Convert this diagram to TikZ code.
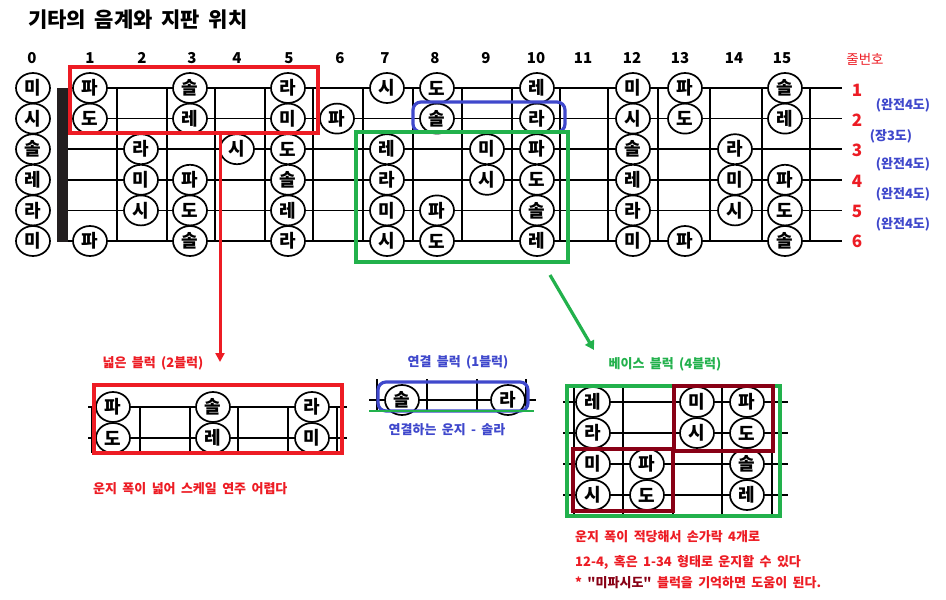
\documentclass[tikz,border=0pt]{standalone}
\usepackage{fontspec}
\setmainfont[WordSpace=1.8, Ligatures=TeXOff]{Noto Sans CJK KR}
\usetikzlibrary{shapes.geometric,arrows.meta}
\definecolor{myred}{HTML}{ED1C24}
\definecolor{myblue}{HTML}{3F48CC}
\definecolor{mygreen}{HTML}{22B14C}
\definecolor{mydark}{HTML}{880015}
\definecolor{nutc}{HTML}{231F20}
\begin{document}
\begin{tikzpicture}[x=1pt,y=-1pt,
  note/.style={ellipse, draw, line width=1.7pt, fill=white, minimum width=34pt, minimum height=30pt, inner sep=0pt, font=\fontsize{18}{18}\selectfont\bfseries},
  strg/.style={line width=1.6pt},
  fretl/.style={line width=1.7pt},
  fnum/.style={font=\fontsize{15}{15}\selectfont\bfseries},
  snum/.style={font=\fontsize{17}{17}\selectfont\bfseries, text=myred},
  intv/.style={font=\fontsize{13}{13}\selectfont\bfseries, text=myblue},
  lbl/.style={font=\fontsize{13}{13}\selectfont\bfseries, inner sep=0pt},
  box/.style={draw, line width=3.2pt, inner sep=0pt, outer sep=0pt}
]
\useasboundingbox (0,0) rectangle (946,600);
\fill[white] (0,0) rectangle (946,600);
% title
\node[anchor=west, font=\fontsize{21}{21}\selectfont\bfseries, inner sep=0pt] (title) at (28,20) {기타의 음계와 지판 위치};
% fret numbers
\foreach \n/\x in {0/32,1/90,2/142,3/192,4/237,5/289,6/340,7/385,8/435,9/486,10/536,11/583,12/632,13/680,14/734,15/782}
  \node[fnum] (fn\n) at (\x,58) {\n};
% strings
\foreach \s in {1,...,6} {
  \pgfmathsetmacro\yy{88+30.6*(\s-1)}
  \coordinate (sl\s) at (68,\yy);
  \coordinate (sr\s) at (842,\yy);
  \draw[strg, line width={\s==6 ? 2.3pt : 1.6pt}] (sl\s) -- (sr\s);
}
% frets
\foreach \x [count=\i] in {117,167,215,265,313,363,413,462,512,560,608,658,710,762,810} {
  \coordinate (ft\i) at (\x,88);
  \coordinate (fb\i) at (\x,241);
  \draw[fretl] (ft\i) -- (fb\i);
}
% nut
\fill[nutc] (57,88) rectangle (68,242);
% notes
\foreach \s/\f/\t in {1/0/미,2/0/시,3/0/솔,4/0/레,5/0/라,6/0/미,
  1/1/파,2/1/도,6/1/파,
  3/2/라,4/2/미,5/2/시,
  1/3/솔,2/3/레,4/3/파,5/3/도,6/3/솔,
  3/4/시,
  1/5/라,2/5/미,3/5/도,4/5/솔,5/5/레,6/5/라,
  2/6/파,
  1/7/시,3/7/레,4/7/라,5/7/미,6/7/시,
  1/8/도,2/8/솔,5/8/파,6/8/도,
  3/9/미,4/9/시,
  1/10/레,2/10/라,3/10/파,4/10/도,5/10/솔,6/10/레,
  1/12/미,2/12/시,3/12/솔,4/12/레,5/12/라,6/12/미,
  1/13/파,2/13/도,6/13/파,
  3/14/라,4/14/미,5/14/시,
  1/15/솔,2/15/레,4/15/파,5/15/도,6/15/솔} {
  \pgfmathsetmacro\xx{{33,90,141,190,237,288,337,387,437,487,537,585,633,685,735,785}[\f]}
  \pgfmathsetmacro\yy{88+30.6*(\s-1)}
  \node[note] (n\s-\f) at (\xx,\yy) {\t};
}
% string labels
\node[font=\fontsize{13.5}{13.5}\selectfont, text=myred] (jul) at (865,59) {줄번호};
\foreach \s in {1,...,6} {
  \pgfmathsetmacro\yy{90+30.3*(\s-1)}
  \node[snum] (sn\s) at (857,\yy) {\s};
}
\node[intv] (iv1) at (903,105) {(완전4도)};
\node[intv] (iv2) at (891,136) {(장3도)};
\node[intv] (iv3) at (903,164) {(완전4도)};
\node[intv] (iv4) at (903,194) {(완전4도)};
\node[intv] (iv5) at (903,224) {(완전4도)};
% highlight boxes on fretboard
\node[box, draw=myred, minimum width=248pt, minimum height=66pt] (redbox) at (194,100) {};
\node[box, draw=myblue, rounded corners=8pt, minimum width=152pt, minimum height=30pt] (bluebox) at (489,117) {};
\node[box, draw=mygreen, minimum width=212pt, minimum height=130pt] (greenbox) at (462,197) {};
% arrows
\coordinate (redend) at (220,362);
\draw[myred, line width=3pt, -{Triangle[length=9pt,width=9pt]}] (redbox.south -| redend) -- (redend);
\coordinate (gstart) at (550,275);
\coordinate (gend) at (594,350);
\draw[mygreen, line width=3.2pt, -{Triangle[length=9pt,width=10pt]}] (gstart) -- (gend);

% ===== left block
\node[lbl, text=myred] (lt1) at (153,363) {넓은 블럭 (2블럭)};
\foreach \y [count=\i] in {407,438} {
  \coordinate (ls\i a) at (88,\y); \coordinate (ls\i b) at (347,\y);
  \draw[strg] (ls\i a) -- (ls\i b);
}
\foreach \x [count=\i] in {92,140,190,238,288,337} {
  \coordinate (lf\i a) at (\x,407); \coordinate (lf\i b) at (\x,453);
  \draw[fretl] (lf\i a) -- (lf\i b);
}
\foreach \x/\y/\t [count=\i] in {113/407/파,213/407/솔,312/407/라,113/438/도,213/438/레,312/438/미}
  \node[note] (ln\i) at (\x,\y) {\t};
\node[box, draw=myred, minimum width=248pt, minimum height=68pt] (lbox) at (218,419) {};
\node[lbl, text=myred, anchor=west] (lt2) at (93,489) {운지 폭이 넓어 스케일 연주 어렵다};

% ===== middle block
\node[lbl, text=myblue] (mt1) at (458,362) {연결 블럭 (1블럭)};
\coordinate (msa) at (369,400); \coordinate (msb) at (536,400);
\draw[strg] (msa) -- (msb);
\foreach \x [count=\i] in {377,427,477,526} {
  \coordinate (mf\i a) at (\x,379); \coordinate (mf\i b) at (\x,411);
  \draw[fretl] (mf\i a) -- (mf\i b);
}
\node[note] (mn1) at (402,400) {솔};
\node[note] (mn2) at (508,400) {라};
\node[box, draw=myblue, rounded corners=8pt, minimum width=150pt, minimum height=29pt] (mbox) at (453,396.5) {};
\coordinate (mga) at (369,411); \coordinate (mgb) at (534,411);
\draw[mygreen, line width=2.6pt] (mga) -- (mgb);
\node[lbl, text=myblue] (mt2) at (447,430) {연결하는 운지 - 솔라};

% ===== right block
\node[lbl, text=mygreen] (rt1) at (665,364) {베이스 블럭 (4블럭)};
\foreach \y [count=\i] in {402,433,464,495} {
  \coordinate (rs\i a) at (563,\y); \coordinate (rs\i b) at (788,\y);
  \draw[strg, line width={\i==4 ? 2.3pt : 1.6pt}] (rs\i a) -- (rs\i b);
}
\foreach \x [count=\i] in {574,623,673,722,772} {
  \coordinate (rf\i a) at (\x,386); \coordinate (rf\i b) at (\x,515);
  \draw[fretl] (rf\i a) -- (rf\i b);
}
\foreach \x/\y/\t [count=\i] in {593/402/레,697/402/미,747/402/파,593/433/라,697/433/시,747/433/도,593/464/미,647/464/파,747/464/솔,593/495/시,647/495/도,747/495/레}
  \node[note] (rn\i) at (\x,\y) {\t};
\node[box, draw=mygreen, minimum width=213pt, minimum height=130pt] (rbox) at (673.5,451) {};
\node[box, draw=mydark, minimum width=99pt, minimum height=65pt] (dbox1) at (723.5,418.5) {};
\node[box, draw=mydark, minimum width=100pt, minimum height=62pt] (dbox2) at (623,480) {};
\node[lbl, text=myred, anchor=west] (rt2) at (575,537) {운지 폭이 적당해서 손가락 4개로};
\node[lbl, text=myred, anchor=west] (rt3) at (575,562) {12-4, 혹은 1-34 형태로 운지할 수 있다};
\node[lbl, text=myred, anchor=west] (rt4) at (575,583) {* \textcolor{mydark}{"미파시도"} 블럭을 기억하면 도움이 된다.};
\end{tikzpicture}
\end{document}
